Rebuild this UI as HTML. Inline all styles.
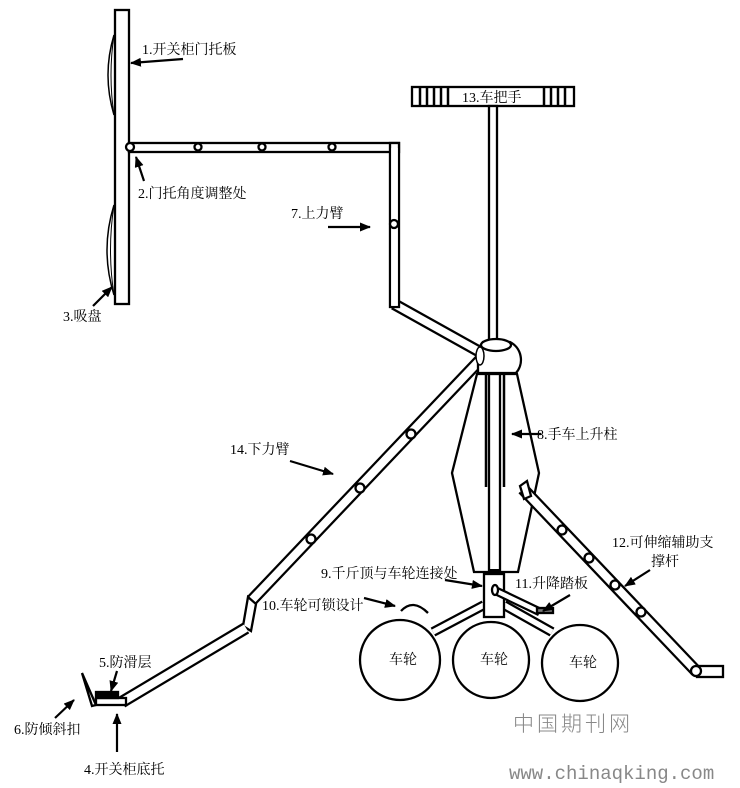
<!DOCTYPE html>
<html><head><meta charset="utf-8"><style>
body{margin:0;background:#fff}
text{font-family:"Liberation Serif","Noto Serif CJK SC",serif;font-size:14px;fill:#000}
</style></head><body>
<svg width="740" height="783" viewBox="0 0 740 783" xmlns="http://www.w3.org/2000/svg">
<defs>
<marker id="ah" markerWidth="11" markerHeight="9" refX="10" refY="4.5" orient="auto" markerUnits="userSpaceOnUse"><path d="M0,0 L11,4.5 L0,9 z" fill="#000"/></marker>
</defs>
<g fill="none" stroke="#000" stroke-width="2.3">
<!-- door plate -->
<rect x="115" y="10" width="14" height="294" fill="#fff"/>
<path d="M114,35 Q102,75 114,115" stroke-width="1.5"/>
<path d="M114,35 Q108,75 114,115" stroke-width="1"/>
<path d="M114,205 Q100,250 114,295" stroke-width="1.5"/>
<path d="M114,205 Q107,250 114,295" stroke-width="1"/>
<!-- upper arm -->
<line x1="394" y1="304" x2="480" y2="352" stroke-width="12"/>
<line x1="394" y1="304" x2="480" y2="352" stroke="#fff" stroke-width="7.5"/>
<rect x="129" y="143" width="270" height="9" fill="#fff"/>
<rect x="390" y="143" width="9" height="164" fill="#fff"/>
<rect x="391.2" y="148" width="6.6" height="157.8" stroke="none" fill="#fff"/>
<circle cx="130" cy="147" r="4" fill="#fff"/>
<circle cx="198" cy="147" r="3.5" fill="#fff"/>
<circle cx="262" cy="147" r="3.5" fill="#fff"/>
<circle cx="332" cy="147" r="3.5" fill="#fff"/>
<circle cx="394" cy="224" r="4" fill="#fff"/>
<!-- handle -->
<rect x="412" y="87" width="162" height="19" fill="#fff"/>
<g stroke-width="2.5"><line x1="420" y1="87" x2="420" y2="106"/><line x1="427" y1="87" x2="427" y2="106"/><line x1="434" y1="87" x2="434" y2="106"/><line x1="441" y1="87" x2="441" y2="106"/><line x1="448" y1="87" x2="448" y2="106"/>
<line x1="544" y1="87" x2="544" y2="106"/><line x1="551" y1="87" x2="551" y2="106"/><line x1="558" y1="87" x2="558" y2="106"/><line x1="565" y1="87" x2="565" y2="106"/></g>
<rect x="489" y="106" width="8" height="234" fill="#fff"/>
<!-- lower arm 14 -->
<line x1="480" y1="360" x2="252" y2="600" stroke-width="12.5"/>
<line x1="480" y1="360" x2="252" y2="600" stroke="#fff" stroke-width="8"/>
<circle cx="411" cy="434" r="4.5" fill="#fff"/>
<circle cx="360" cy="488" r="4.5" fill="#fff"/>
<circle cx="311" cy="539" r="4.5" fill="#fff"/>
<path d="M248,597 L256,604 L251,631 L243,626 z" fill="#fff"/>
<line x1="246" y1="628" x2="122" y2="702" stroke-width="12.5"/>
<line x1="246" y1="628" x2="122" y2="702" stroke="#fff" stroke-width="8"/>
<rect x="96" y="698" width="30" height="7" fill="#fff"/>
<rect x="96" y="692" width="22" height="6" fill="#000"/>
<path d="M82,673 L96,705 L92,706 z" fill="#fff"/>
<!-- ball -->
<path d="M478,357 A20,20 0 0 1 483,342 L510,342 A20,20 0 0 1 516,373 L478,373 z" fill="#fff"/>
<ellipse cx="496" cy="345" rx="15" ry="6" fill="#fff"/>
<ellipse cx="480" cy="356" rx="4" ry="9" fill="#fff" stroke-width="1.5"/>
<!-- body -->
<path d="M477,374 L517,374 L539,473 L518,572 L474,572 L452,473 z" fill="#fff"/>
<line x1="486" y1="375" x2="486" y2="487" stroke-width="2.5"/>
<line x1="504" y1="375" x2="504" y2="487" stroke-width="2.5"/>
<rect x="489" y="374" width="11" height="198" fill="#fff"/>
<line x1="489" y1="571" x2="500" y2="571" stroke-width="4"/>
<!-- wheel legs -->
<line x1="484" y1="605" x2="433" y2="632" stroke-width="10"/>
<line x1="484" y1="605" x2="433" y2="632" stroke="#fff" stroke-width="5.5"/>
<line x1="504" y1="605" x2="552" y2="632" stroke-width="10"/>
<line x1="504" y1="605" x2="552" y2="632" stroke="#fff" stroke-width="5.5"/>
<rect x="484" y="574" width="20" height="43" fill="#fff"/>
<!-- lever 11 -->
<line x1="494" y1="590" x2="540" y2="612" stroke-width="9"/>
<line x1="494" y1="590" x2="540" y2="612" stroke="#fff" stroke-width="4.5"/>
<ellipse cx="495" cy="590" rx="3" ry="5" fill="#fff"/>
<rect x="537" y="608" width="16" height="5" fill="#777"/>
<!-- wheels -->
<circle cx="400" cy="660" r="40" fill="#fff"/>
<path d="M401,611 Q413,598 428,613" />
<circle cx="491" cy="660" r="38" fill="#fff"/>
<circle cx="580" cy="663" r="38" fill="#fff"/>
<!-- strut 12 -->
<line x1="523" y1="489" x2="696" y2="671" stroke-width="12.5"/>
<line x1="523" y1="489" x2="696" y2="671" stroke="#fff" stroke-width="8"/>
<path d="M520,486 L527,481 L531,496 L524,499 z" fill="#fff"/>
<circle cx="562" cy="530" r="4.5" fill="#fff"/>
<circle cx="589" cy="558" r="4.5" fill="#fff"/>
<circle cx="615" cy="585" r="4.5" fill="#fff"/>
<circle cx="641" cy="612" r="4.5" fill="#fff"/>
<rect x="697" y="666" width="26" height="11" fill="#fff"/>
<circle cx="696" cy="671" r="5" fill="#fff"/>
<!-- arrows -->
<g stroke-width="2.2" marker-end="url(#ah)">
<line x1="183" y1="59" x2="131" y2="63"/>
<line x1="144" y1="181" x2="136" y2="157"/>
<line x1="93" y1="306" x2="112" y2="287"/>
<line x1="328" y1="227" x2="370" y2="227"/>
<line x1="290" y1="461" x2="333" y2="474"/>
<line x1="541" y1="434" x2="512" y2="434"/>
<line x1="445" y1="580" x2="482" y2="586"/>
<line x1="364" y1="598" x2="395" y2="606"/>
<line x1="570" y1="595" x2="543" y2="611"/>
<line x1="650" y1="570" x2="625" y2="586"/>
<line x1="117" y1="671" x2="111" y2="691"/>
<line x1="55" y1="718" x2="74" y2="700"/>
<line x1="117" y1="752" x2="117" y2="714"/>
</g>
</g>
<!-- labels -->
<text x="142" y="54">1.开关柜门托板</text>
<text x="138" y="198">2.门托角度调整处</text>
<text x="63" y="321">3.吸盘</text>
<text x="291" y="218">7.上力臂</text>
<text x="462" y="102">13.车把手</text>
<text x="230" y="454">14.下力臂</text>
<text x="537" y="439">8.手车上升柱</text>
<text x="321" y="578">9.千斤顶与车轮连接处</text>
<text x="262" y="610">10.车轮可锁设计</text>
<text x="515" y="588">11.升降踏板</text>
<text x="612" y="547">12.可伸缩辅助支</text>
<text x="651" y="566">撑杆</text>
<text x="99" y="667">5.防滑层</text>
<text x="14" y="734">6.防倾斜扣</text>
<text x="84" y="774">4.开关柜底托</text>
<g style="font-size:12px"><text x="389" y="664">车轮</text><text x="480" y="664">车轮</text><text x="569" y="667">车轮</text></g>
<text x="513" y="731" style="font-family:'Noto Sans CJK SC',sans-serif;font-size:21px;fill:#888;letter-spacing:3px;font-weight:300">中国期刊网</text>
<text x="509" y="779" style="font-family:'Liberation Mono',monospace;font-size:19px;fill:#888">www.chinaqking.com</text>
</svg>
</body></html>
